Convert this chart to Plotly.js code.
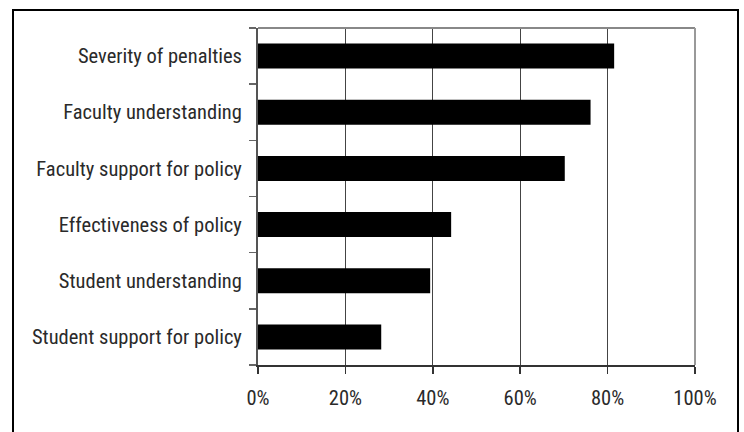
<!DOCTYPE html>
<html>
<head>
<meta charset="utf-8">
<script src="https://cdn.plot.ly/plotly-3.0.1.min.js"></script>
<style>
  html, body { margin: 0; padding: 0; background: #fff; }
  #chart { width: 744px; height: 432px; }
</style>
</head>
<body>
<div id="chart"></div>
<script>
// Categories listed bottom to top (Plotly category axis order)
const categories = [
  "Student support for policy",
  "Student understanding",
  "Effectiveness of policy",
  "Faculty support for policy",
  "Faculty understanding",
  "Severity of penalties"
];
const values = [0.282, 0.394, 0.442, 0.702, 0.761, 0.815];
const xTickVals = [0, 0.2, 0.4, 0.6, 0.8, 1.0];
const xTickText = ["0%", "20%", "40%", "60%", "80%", "100%"];

const FONT = "'Roboto Condensed', 'Liberation Sans Narrow', 'Arial Narrow', 'Liberation Sans', Arial, sans-serif";

const trace = {
  type: "bar",
  orientation: "h",
  y: categories,
  x: values,
  marker: { color: "#000000", line: { width: 0 } },
  hoverinfo: "none"
};

// plot-area geometry (pixels) used to place the frame in paper coords
const W = 744, H = 432, L = 258, T = 28, R = 49, B = 67;
const pw = W - L - R, ph = H - T - B;
const px = v => (v - L) / pw;
const py = v => (H - B - v) / ph;

const tickFont = { family: FONT, size: 20.5, color: "#2a2a2a", weight: 400 };

const layout = {
  width: W, height: H,
  margin: { l: L, r: R, t: T, b: B, pad: 0 },
  paper_bgcolor: "#ffffff",
  plot_bgcolor: "#ffffff",
  showlegend: false,
  bargap: 0.555,
  font: { family: FONT, size: 20.5, color: "#2a2a2a" },
  xaxis: {
    range: [0, 1],
    tickvals: xTickVals,
    ticktext: xTickText,
    showgrid: true,
    gridcolor: "#444444",
    gridwidth: 1,
    zeroline: false,
    showline: true,
    linecolor: "#333333",
    linewidth: 2,
    ticks: "outside",
    ticklen: 7,
    tickwidth: 1.5,
    tickcolor: "#333333",
    ticklabelstandoff: 6,
    tickfont: tickFont,
    fixedrange: true
  },
  yaxis: {
    type: "category",
    categoryorder: "array",
    categoryarray: categories,
    tickson: "boundaries",
    showgrid: false,
    zeroline: false,
    showline: true,
    linecolor: "#555555",
    linewidth: 2,
    ticks: "outside",
    ticklen: 7,
    tickwidth: 1.5,
    tickcolor: "#666666",
    ticklabelstandoff: 10,
    tickfont: tickFont,
    fixedrange: true
  },
  shapes: [
    // top border of plot area
    { type: "line", xref: "paper", yref: "paper", x0: 0, x1: 1, y0: 1, y1: 1,
      line: { color: "#888888", width: 2 } },
    // right border of plot area
    { type: "line", xref: "paper", yref: "paper", x0: 1, x1: 1, y0: 0, y1: 1,
      line: { color: "#999999", width: 2 } },
    // outer frame (left, top, right)
    { type: "path", xref: "paper", yref: "paper",
      path: "M " + px(13) + "," + py(440) + " L " + px(13) + "," + py(10) +
            " L " + px(738) + "," + py(10) + " L " + px(738) + "," + py(440),
      line: { color: "#000000", width: 2 } }
  ]
};

Plotly.newPlot("chart", [trace], layout, { staticPlot: true, displayModeBar: false });
</script>
</body>
</html>
